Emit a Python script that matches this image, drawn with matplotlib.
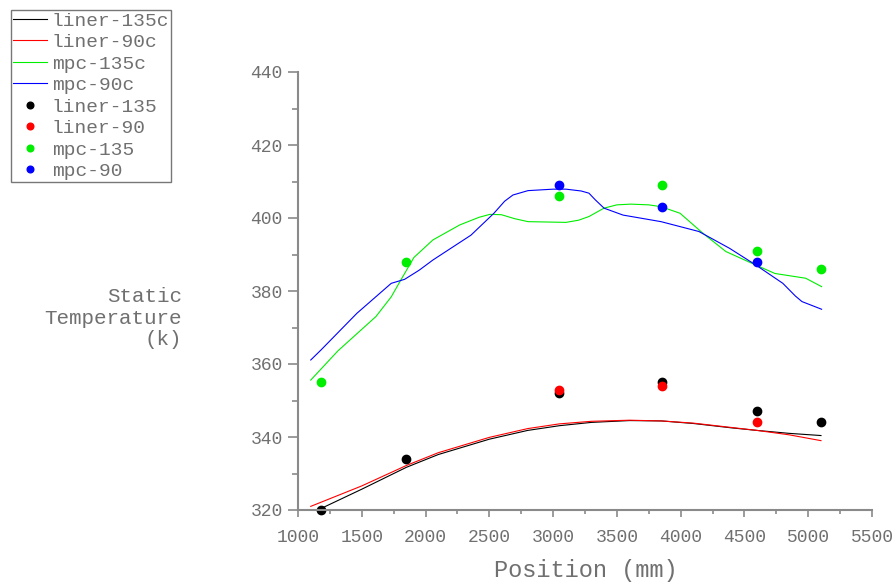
"""Static temperature along the liner / mpc, computed curves vs measured points."""
import matplotlib
matplotlib.use("Agg")
import matplotlib.pyplot as plt
from matplotlib.ticker import MultipleLocator

# computed curves (c = calculated)
liner_135c_x = [1180, 1500, 1850, 2100, 2500, 2800, 3050, 3300, 3600, 3850, 4100, 4400, 4600, 4850, 5100]
liner_135c_y = [320.4, 325.7, 331.7, 335.2, 339.4, 341.8, 343.1, 344.0, 344.5, 344.4, 343.7, 342.5, 341.8, 341.0, 340.4]
liner_90c_x = [1100, 1500, 1850, 2100, 2500, 2800, 3050, 3300, 3600, 3850, 4100, 4400, 4600, 4850, 5100]
liner_90c_y = [321.0, 326.6, 332.2, 335.7, 339.9, 342.3, 343.6, 344.3, 344.6, 344.4, 343.8, 342.6, 341.8, 340.6, 339.0]

mpc_135c_x = [1100, 1313, 1611, 1731, 1806, 1909, 2058, 2268, 2420, 2505, 2595, 2700, 2803, 3101, 3200, 3281,
              3399, 3500, 3609, 3750, 3846, 3995, 4175, 4355, 4590, 4739, 4980, 5105]
mpc_135c_y = [355.6, 363.6, 373.0, 378.4, 383.0, 389.2, 394.0, 398.1, 400.2, 401.0, 400.9, 399.8, 399.0, 398.8,
              399.4, 400.4, 402.7, 403.6, 403.8, 403.6, 403.1, 401.3, 395.8, 390.8, 387.1, 384.8, 383.5, 381.2]
mpc_90c_x = [1100, 1179, 1462, 1731, 1836, 1950, 2058, 2356, 2536, 2620, 2685, 2803, 3000, 3101, 3220, 3281,
             3330, 3399, 3548, 3846, 4143, 4383, 4590, 4801, 4900, 4951, 5105]
mpc_90c_y = [361.1, 363.8, 373.9, 382.1, 383.2, 385.7, 388.5, 395.3, 401.3, 404.6, 406.3, 407.5, 407.9, 407.9,
             407.4, 406.8, 405.0, 402.7, 400.8, 399.0, 396.3, 391.7, 387.1, 382.1, 378.6, 377.1, 375.0]

# measured points
liner_135_x = [1180, 1850, 3050, 3850, 4600, 5100]
liner_135_y = [320, 334, 352, 355, 347, 344]
liner_90_x = [3050, 3850, 4600]
liner_90_y = [353, 354, 344]
mpc_135_x = [1180, 1850, 3050, 3850, 4600, 5100]
mpc_135_y = [355, 388, 406, 409, 391, 386]
mpc_90_x = [3050, 3850, 4600]
mpc_90_y = [409, 403, 388]

FONT = "Liberation Mono"
TXT = "#707070"
AXC = "#8a8a8a"

fig = plt.figure(figsize=(8.96, 5.87), dpi=100)
ax = fig.add_axes([298 / 896, 1 - 510 / 587, 574 / 896, 438 / 587])

lw = 0.8
ax.plot(liner_135c_x, liner_135c_y, color="black", lw=lw, label="liner-135c")
ax.plot(liner_90c_x, liner_90c_y, color="red", lw=lw, label="liner-90c")
ax.plot(mpc_135c_x, mpc_135c_y, color="#00ee00", lw=lw, label="mpc-135c")
ax.plot(mpc_90c_x, mpc_90c_y, color="blue", lw=lw, label="mpc-90c")

ms = 6
ax.plot(liner_135_x, liner_135_y, "o", color="black", ms=ms, label="liner-135", clip_on=False)
ax.plot(liner_90_x, liner_90_y, "o", color="red", ms=ms, label="liner-90")
ax.plot(mpc_135_x, mpc_135_y, "o", color="#00ee00", ms=ms, label="mpc-135")
ax.plot(mpc_90_x, mpc_90_y, "o", color="blue", ms=ms, label="mpc-90")

ax.set_xlim(1000, 5500)
ax.set_ylim(320, 440)
ax.xaxis.set_major_locator(MultipleLocator(500))
ax.xaxis.set_minor_locator(MultipleLocator(250))
ax.yaxis.set_major_locator(MultipleLocator(20))
ax.yaxis.set_minor_locator(MultipleLocator(10))

for side in ["top", "right"]:
    ax.spines[side].set_visible(False)
for side in ["left", "bottom"]:
    ax.spines[side].set_color(AXC)
    ax.spines[side].set_linewidth(1.5)

ax.tick_params(axis="y", which="major", length=7, width=1.2, color=AXC, pad=4)
ax.tick_params(axis="y", which="minor", length=4, width=1.2, color=AXC)
ax.tick_params(axis="x", which="major", length=5, width=1.2, color=AXC, pad=9)
ax.tick_params(axis="x", which="minor", length=3, width=1.2, color=AXC)
for lab in ax.get_xticklabels() + ax.get_yticklabels():
    lab.set_fontfamily(FONT)
    lab.set_fontsize(13)
    lab.set_color(TXT)

fig.text(586 / 896, 1 - 571 / 587, "Position (mm)", ha="center", va="center",
         family=FONT, fontsize=17, color=TXT)
fig.text(182 / 896, 1 - 318 / 587, "Static\nTemperature\n(k)", ha="right", va="center",
         multialignment="right", family=FONT, fontsize=15, color=TXT, linespacing=1.15)

leg = fig.legend(loc="upper left", bbox_to_anchor=(11 / 896, 1 - 10 / 587),
                 prop={"family": FONT, "size": 14}, frameon=True, fancybox=False,
                 handlelength=1.75, handletextpad=0.25, labelspacing=0.2, borderpad=0.1,
                 borderaxespad=0, markerscale=0.8)
leg.get_frame().set_edgecolor("#555555")
leg.get_frame().set_linewidth(1.0)
for t in leg.get_texts():
    t.set_color(TXT)

fig.savefig("out.png", dpi=100)
